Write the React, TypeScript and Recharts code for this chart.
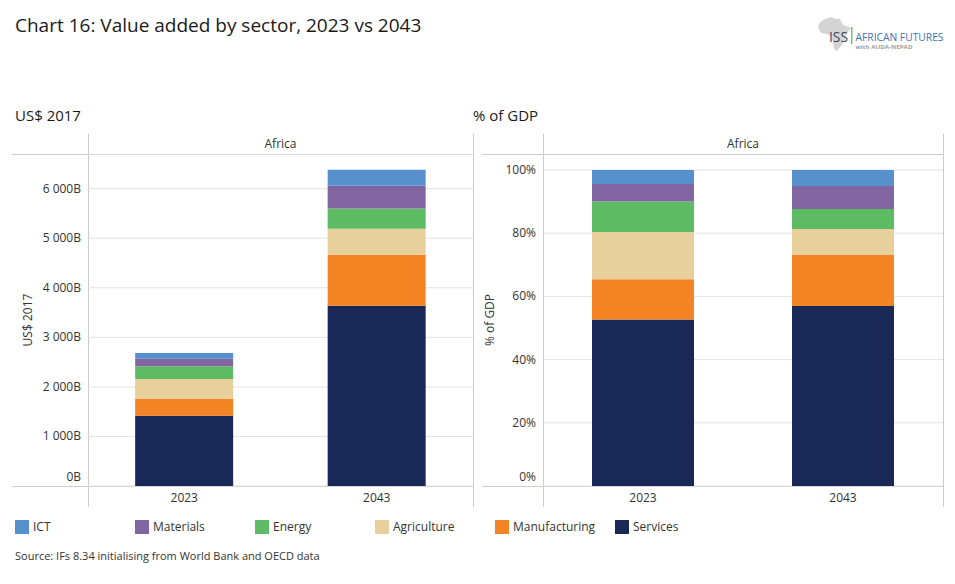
import { BarChart, Bar, XAxis, YAxis, CartesianGrid } from 'recharts';

const years = ['2023', '2043'];
const sectors = ['Services', 'Manufacturing', 'Agriculture', 'Energy', 'Materials', 'ICT'];
const sectorColors = ['#1A2857', '#F38323', '#E7D09C', '#5DBB63', '#8165A1', '#5690CD'];
const legendOrder = ['ICT', 'Materials', 'Energy', 'Agriculture', 'Manufacturing', 'Services'];

// value added, billions of US$ 2017
const services = [1416, 3638];
const manufacturing = [342, 1030];
const agriculture = [402, 524];
const energy = [258, 406];
const materials = [148, 462];
const ict = [120, 324];

const usdTicks = [0, 1000, 2000, 3000, 4000, 5000, 6000];
const pctTicks = [0, 0.2, 0.4, 0.6, 0.8, 1];

const seriesValues: Record<string, number[]> = {
  Services: services,
  Manufacturing: manufacturing,
  Agriculture: agriculture,
  Energy: energy,
  Materials: materials,
  ICT: ict,
};

const data = years.map((year, i) => {
  const row: Record<string, string | number> = { year };
  sectors.forEach((s) => {
    row[s] = seriesValues[s][i];
  });
  return row;
});

const FONT = '"Open Sans", "DejaVu Sans", sans-serif';
const TEXT = '#333333';
const FRAME = '#cccccc';

const fmtUsd = (v: number) =>
  v >= 1000 ? `${Math.floor(v / 1000)} ${String(v % 1000).padStart(3, '0')}B` : `${v}B`;
const fmtPct = (v: number) => `${Math.round(v * 100)}%`;

const makeYTick = (fmt: (v: number) => string) => (props: any) => {
  const { x, y, payload } = props;
  const yy = payload.value === 0 ? y - 9 : y;
  return (
    <text x={x} y={yy} dy={4} textAnchor="end" fontSize={12} fill={TEXT} fontFamily={FONT}>
      {fmt(payload.value)}
    </text>
  );
};

const makeAxisTitle = (text: string, dx: number, dy: number) => (props: any) => {
  const vb = props.viewBox || { x: 0, y: 0, width: 0, height: 0 };
  const cx = vb.x + dx;
  const cy = vb.y + vb.height / 2 + dy;
  return (
    <text
      x={cx}
      y={cy}
      transform={`rotate(-90 ${cx} ${cy})`}
      textAnchor="middle"
      dy={4}
      fontSize={12}
      fill={TEXT}
      fontFamily={FONT}
    >
      {text}
    </text>
  );
};

const line = (left: number, top: number, width: number, height: number, key: string) => (
  <div key={key} style={{ position: 'absolute', left, top, width, height, background: FRAME }} />
);

const Panel = ({
  left,
  axisW,
  percent,
}: {
  left: number;
  axisW: number;
  percent: boolean;
}) => {
  const plotLeft = left + 12 + axisW;
  const plotRight = left + 473;
  // the percent panel is stacked to 100%, so its headroom above 100% is kept as top margin
  const topPad = percent ? 16 : 0;
  return (
    <>
      {line(left + 12, 154, 473 - 12, 1, 'h1')}
      {line(left + 12, 486, 473 - 12, 1, 'h2')}
      {line(plotLeft, 134, 1, 373, 'v1')}
      {line(plotRight, 134, 1, 373, 'v2')}
      <div
        style={{
          position: 'absolute',
          left: plotLeft,
          width: plotRight - plotLeft,
          top: 136,
          textAlign: 'center',
          fontSize: 12,
          lineHeight: '16px',
          color: TEXT,
        }}
      >
        Africa
      </div>
      <div style={{ position: 'absolute', left, top: 154 }}>
        <BarChart
          width={480}
          height={353}
          data={data}
          margin={{ top: topPad, right: 7, left: 12, bottom: 0 }}
          barCategoryGap="24.5%"
          stackOffset={percent ? 'expand' : 'none'}
        >
          <CartesianGrid vertical={false} stroke="#e3e3e3" />
          <XAxis
            dataKey="year"
            height={21}
            axisLine={false}
            tickLine={false}
            tickSize={0}
            tickMargin={7}
            tick={{ fontSize: 12, fill: TEXT, fontFamily: FONT }}
          />
          <YAxis
            width={axisW}
            domain={percent ? [0, 1] : [0, 6700]}
            ticks={percent ? pctTicks : usdTicks}
            allowDataOverflow
            axisLine={false}
            tickLine={false}
            tickSize={0}
            tickMargin={7}
            tick={makeYTick(percent ? fmtPct : fmtUsd)}
            label={{
              content: makeAxisTitle(percent ? '% of GDP' : 'US$ 2017', percent ? 8 : 16, -topPad / 2),
            }}
          />
          {sectors.map((s, i) => (
            <Bar key={s} dataKey={s} stackId="a" fill={sectorColors[i]} isAnimationActive={false} />
          ))}
        </BarChart>
      </div>
    </>
  );
};

const Logo = () => (
  <svg style={{ position: 'absolute', left: 816, top: 14 }} width={135} height={42}>
    <path
      d="M9 5 L15 3 L20 5 L24 5 L27 11 L33 13 L35 14 L30 20 L29 26 L25 32 L21 37 L18 35 L17 28 L15 22 L11 20 L5 19 L2 13 L4 8 Z"
      fill="#d4d4d4"
    />
    <text x={13} y={28} fontSize={15} fill="#3f4862" fontFamily={FONT} textLength={19} lengthAdjust="spacingAndGlyphs">
      ISS
    </text>
    <rect x={35} y={13} width={1.5} height={17} fill="#7cc36b" />
    <text x={39.5} y={27} fontSize={11} fill="#3d74b8" fontFamily={FONT} textLength={88} lengthAdjust="spacingAndGlyphs">
      AFRICAN FUTURES
    </text>
    <text x={39.5} y={35} fontSize={5.5} fill="#a0a0a0" fontFamily={FONT} fontWeight={700} textLength={57} lengthAdjust="spacingAndGlyphs">
      with AUDA-NEPAD
    </text>
  </svg>
);

export default function App() {
  return (
    <div
      style={{
        position: 'absolute',
        left: 0,
        top: 0,
        width: 955,
        height: 584,
        background: '#fff',
        fontFamily: FONT,
        color: TEXT,
      }}
    >
      <div style={{ position: 'absolute', left: 15, top: 12, fontSize: 19, color: '#1a1a1a', lineHeight: '26px' }}>
        Chart 16: Value added by sector, 2023 vs 2043
      </div>
      <Logo />
      <div style={{ position: 'absolute', left: 15, top: 104, fontSize: 15, color: '#1a1a1a', lineHeight: '22px' }}>
        US$ 2017
      </div>
      <div style={{ position: 'absolute', left: 473, top: 104, fontSize: 15, color: '#1a1a1a', lineHeight: '22px' }}>
        % of GDP
      </div>
      <Panel left={0} axisW={76} percent={false} />
      <Panel left={470} axisW={61} percent={true} />
      {legendOrder.map((s, i) => (
        <div
          key={s}
          style={{ position: 'absolute', left: 15 + i * 120, top: 520, display: 'flex', alignItems: 'center' }}
        >
          <div style={{ width: 14, height: 14, background: sectorColors[sectors.indexOf(s)] }} />
          <span style={{ marginLeft: 4, fontSize: 12, lineHeight: '14px', color: TEXT }}>{s}</span>
        </div>
      ))}
      <div style={{ position: 'absolute', left: 15, top: 548, fontSize: 11, lineHeight: '16px', color: TEXT }}>
        Source: IFs 8.34 initialising from World Bank and OECD data
      </div>
    </div>
  );
}
